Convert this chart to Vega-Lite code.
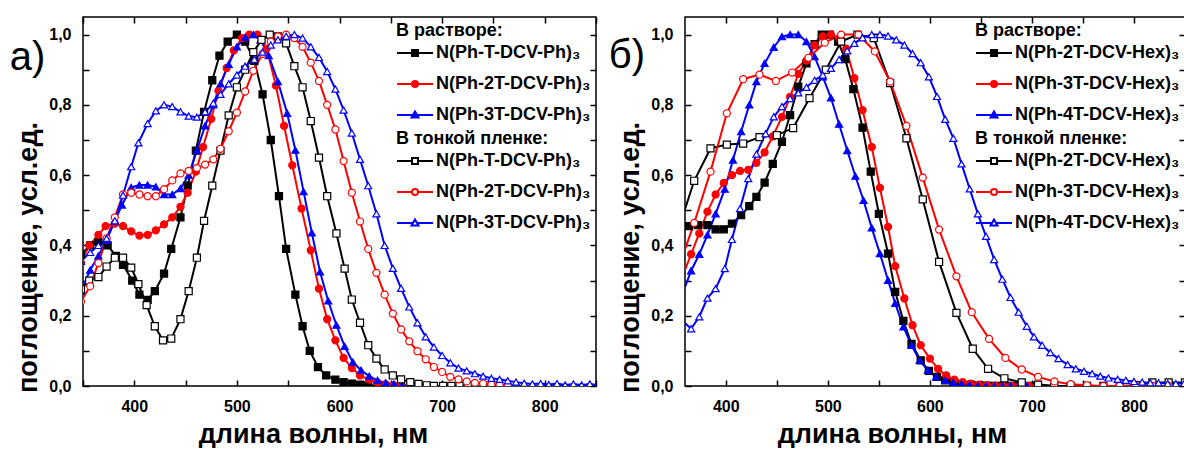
{
"$schema": "https://vega.github.io/schema/vega-lite/v6.json",
"background": "white",
"padding": {"left": 9, "top": 15, "right": 1, "bottom": 0},
"spacing": 9,
"datasets": {
"L": [
{"s":"s1","x":348,"y":0.375},{"s":"s1","x":357,"y":0.40},{"s":"s1","x":365,"y":0.41},{"s":"s1","x":374,"y":0.40},{"s":"s1","x":382,"y":0.37},{"s":"s1","x":389,"y":0.345},{"s":"s1","x":398,"y":0.30},{"s":"s1","x":405,"y":0.26},{"s":"s1","x":413,"y":0.245},{"s":"s1","x":420,"y":0.27},{"s":"s1","x":429,"y":0.32},{"s":"s1","x":436,"y":0.39},{"s":"s1","x":445,"y":0.48},{"s":"s1","x":452,"y":0.57},{"s":"s1","x":460,"y":0.67},{"s":"s1","x":468,"y":0.78},{"s":"s1","x":476,"y":0.87},{"s":"s1","x":483,"y":0.94},{"s":"s1","x":491,"y":0.98},{"s":"s1","x":500,"y":1.0},{"s":"s1","x":508,"y":0.98},{"s":"s1","x":517,"y":0.925},{"s":"s1","x":525,"y":0.83},{"s":"s1","x":533,"y":0.70},{"s":"s1","x":541,"y":0.54},{"s":"s1","x":548,"y":0.39},{"s":"s1","x":557,"y":0.26},{"s":"s1","x":564,"y":0.17},{"s":"s1","x":571,"y":0.10},{"s":"s1","x":579,"y":0.054},{"s":"s1","x":587,"y":0.03},{"s":"s1","x":596,"y":0.018},{"s":"s1","x":604,"y":0.011},{"s":"s1","x":612,"y":0.007},{"s":"s1","x":620,"y":0.004},{"s":"s1","x":628,"y":0.002},{"s":"s1","x":637,"y":0.001},
{"s":"s2","x":348,"y":0.35},{"s":"s2","x":356,"y":0.40},{"s":"s2","x":365,"y":0.43},{"s":"s2","x":372,"y":0.455},{"s":"s2","x":381,"y":0.462},{"s":"s2","x":389,"y":0.455},{"s":"s2","x":397,"y":0.44},{"s":"s2","x":405,"y":0.428},{"s":"s2","x":413,"y":0.43},{"s":"s2","x":421,"y":0.443},{"s":"s2","x":429,"y":0.46},{"s":"s2","x":437,"y":0.48},{"s":"s2","x":445,"y":0.51},{"s":"s2","x":452,"y":0.55},{"s":"s2","x":460,"y":0.61},{"s":"s2","x":467,"y":0.68},{"s":"s2","x":475,"y":0.76},{"s":"s2","x":482,"y":0.84},{"s":"s2","x":490,"y":0.905},{"s":"s2","x":497,"y":0.955},{"s":"s2","x":505,"y":0.99},{"s":"s2","x":512,"y":1.0},{"s":"s2","x":520,"y":1.0},{"s":"s2","x":529,"y":0.96},{"s":"s2","x":538,"y":0.855},{"s":"s2","x":546,"y":0.74},{"s":"s2","x":554,"y":0.628},{"s":"s2","x":563,"y":0.505},{"s":"s2","x":572,"y":0.386},{"s":"s2","x":580,"y":0.277},{"s":"s2","x":588,"y":0.19},{"s":"s2","x":596,"y":0.13},{"s":"s2","x":604,"y":0.08},{"s":"s2","x":612,"y":0.051},{"s":"s2","x":620,"y":0.03},{"s":"s2","x":629,"y":0.018},{"s":"s2","x":637,"y":0.01},{"s":"s2","x":645,"y":0.005},{"s":"s2","x":653,"y":0.002},{"s":"s2","x":661,"y":0.0},
{"s":"s3","x":348,"y":0.27},{"s":"s3","x":357,"y":0.33},{"s":"s3","x":365,"y":0.37},{"s":"s3","x":373,"y":0.415},{"s":"s3","x":381,"y":0.47},{"s":"s3","x":388,"y":0.515},{"s":"s3","x":397,"y":0.565},{"s":"s3","x":405,"y":0.572},{"s":"s3","x":413,"y":0.572},{"s":"s3","x":421,"y":0.567},{"s":"s3","x":429,"y":0.545},{"s":"s3","x":437,"y":0.545},{"s":"s3","x":445,"y":0.562},{"s":"s3","x":453,"y":0.60},{"s":"s3","x":461,"y":0.67},{"s":"s3","x":469,"y":0.74},{"s":"s3","x":477,"y":0.80},{"s":"s3","x":484,"y":0.86},{"s":"s3","x":492,"y":0.915},{"s":"s3","x":500,"y":0.965},{"s":"s3","x":508,"y":0.992},{"s":"s3","x":516,"y":1.0},{"s":"s3","x":523,"y":0.985},{"s":"s3","x":531,"y":0.94},{"s":"s3","x":540,"y":0.866},{"s":"s3","x":549,"y":0.776},{"s":"s3","x":557,"y":0.671},{"s":"s3","x":565,"y":0.553},{"s":"s3","x":573,"y":0.436},{"s":"s3","x":581,"y":0.325},{"s":"s3","x":589,"y":0.242},{"s":"s3","x":597,"y":0.173},{"s":"s3","x":605,"y":0.113},{"s":"s3","x":613,"y":0.068},{"s":"s3","x":621,"y":0.045},{"s":"s3","x":629,"y":0.028},{"s":"s3","x":637,"y":0.016},{"s":"s3","x":645,"y":0.009},{"s":"s3","x":653,"y":0.006},{"s":"s3","x":661,"y":0.003},{"s":"s3","x":669,"y":0.0},
{"s":"f1","x":348,"y":0.275},{"s":"f1","x":356,"y":0.30},{"s":"f1","x":365,"y":0.31},{"s":"f1","x":373,"y":0.34},{"s":"f1","x":381,"y":0.365},{"s":"f1","x":389,"y":0.365},{"s":"f1","x":397,"y":0.337},{"s":"f1","x":404,"y":0.29},{"s":"f1","x":412,"y":0.23},{"s":"f1","x":420,"y":0.17},{"s":"f1","x":428,"y":0.13},{"s":"f1","x":436,"y":0.135},{"s":"f1","x":445,"y":0.19},{"s":"f1","x":453,"y":0.27},{"s":"f1","x":461,"y":0.365},{"s":"f1","x":468,"y":0.47},{"s":"f1","x":476,"y":0.57},{"s":"f1","x":484,"y":0.67},{"s":"f1","x":492,"y":0.77},{"s":"f1","x":500,"y":0.85},{"s":"f1","x":508,"y":0.90},{"s":"f1","x":516,"y":0.95},{"s":"f1","x":524,"y":0.985},{"s":"f1","x":532,"y":1.0},{"s":"f1","x":540,"y":0.995},{"s":"f1","x":548,"y":0.975},{"s":"f1","x":556,"y":0.91},{"s":"f1","x":564,"y":0.85},{"s":"f1","x":572,"y":0.754},{"s":"f1","x":580,"y":0.65},{"s":"f1","x":588,"y":0.54},{"s":"f1","x":597,"y":0.434},{"s":"f1","x":605,"y":0.334},{"s":"f1","x":612,"y":0.246},{"s":"f1","x":620,"y":0.18},{"s":"f1","x":628,"y":0.116},{"s":"f1","x":636,"y":0.078},{"s":"f1","x":644,"y":0.047},{"s":"f1","x":652,"y":0.03},{"s":"f1","x":660,"y":0.019},{"s":"f1","x":669,"y":0.011},{"s":"f1","x":677,"y":0.006},{"s":"f1","x":685,"y":0.002},{"s":"f1","x":692,"y":0.0},{"s":"f1","x":701,"y":0.0},{"s":"f1","x":709,"y":0.0},{"s":"f1","x":717,"y":0.0},{"s":"f1","x":725,"y":0.0},
{"s":"f2","x":348,"y":0.24},{"s":"f2","x":357,"y":0.284},{"s":"f2","x":365,"y":0.35},{"s":"f2","x":373,"y":0.42},{"s":"f2","x":381,"y":0.48},{"s":"f2","x":389,"y":0.545},{"s":"f2","x":397,"y":0.55},{"s":"f2","x":405,"y":0.545},{"s":"f2","x":413,"y":0.54},{"s":"f2","x":421,"y":0.54},{"s":"f2","x":429,"y":0.56},{"s":"f2","x":437,"y":0.585},{"s":"f2","x":445,"y":0.605},{"s":"f2","x":453,"y":0.612},{"s":"f2","x":461,"y":0.62},{"s":"f2","x":469,"y":0.63},{"s":"f2","x":477,"y":0.645},{"s":"f2","x":484,"y":0.675},{"s":"f2","x":492,"y":0.725},{"s":"f2","x":500,"y":0.778},{"s":"f2","x":508,"y":0.838},{"s":"f2","x":516,"y":0.897},{"s":"f2","x":525,"y":0.945},{"s":"f2","x":533,"y":0.98},{"s":"f2","x":540,"y":0.995},{"s":"f2","x":548,"y":1.0},{"s":"f2","x":556,"y":0.99},{"s":"f2","x":564,"y":0.965},{"s":"f2","x":572,"y":0.92},{"s":"f2","x":580,"y":0.868},{"s":"f2","x":588,"y":0.80},{"s":"f2","x":596,"y":0.73},{"s":"f2","x":604,"y":0.64},{"s":"f2","x":612,"y":0.55},{"s":"f2","x":620,"y":0.468},{"s":"f2","x":628,"y":0.39},{"s":"f2","x":636,"y":0.322},{"s":"f2","x":644,"y":0.26},{"s":"f2","x":652,"y":0.206},{"s":"f2","x":660,"y":0.161},{"s":"f2","x":668,"y":0.127},{"s":"f2","x":676,"y":0.099},{"s":"f2","x":684,"y":0.076},{"s":"f2","x":692,"y":0.054},{"s":"f2","x":700,"y":0.04},{"s":"f2","x":708,"y":0.026},{"s":"f2","x":716,"y":0.019},{"s":"f2","x":724,"y":0.013},{"s":"f2","x":732,"y":0.009},{"s":"f2","x":740,"y":0.007},{"s":"f2","x":748,"y":0.004},{"s":"f2","x":756,"y":0.002},{"s":"f2","x":764,"y":0.0},
{"s":"f3","x":348,"y":0.355},{"s":"f3","x":357,"y":0.38},{"s":"f3","x":365,"y":0.40},{"s":"f3","x":373,"y":0.42},{"s":"f3","x":381,"y":0.47},{"s":"f3","x":389,"y":0.543},{"s":"f3","x":397,"y":0.624},{"s":"f3","x":404,"y":0.692},{"s":"f3","x":413,"y":0.747},{"s":"f3","x":421,"y":0.783},{"s":"f3","x":429,"y":0.80},{"s":"f3","x":437,"y":0.795},{"s":"f3","x":445,"y":0.78},{"s":"f3","x":453,"y":0.768},{"s":"f3","x":461,"y":0.765},{"s":"f3","x":469,"y":0.78},{"s":"f3","x":477,"y":0.805},{"s":"f3","x":484,"y":0.83},{"s":"f3","x":492,"y":0.86},{"s":"f3","x":500,"y":0.885},{"s":"f3","x":508,"y":0.91},{"s":"f3","x":517,"y":0.93},{"s":"f3","x":525,"y":0.95},{"s":"f3","x":533,"y":0.97},{"s":"f3","x":540,"y":0.985},{"s":"f3","x":548,"y":0.995},{"s":"f3","x":556,"y":1.0},{"s":"f3","x":564,"y":0.99},{"s":"f3","x":572,"y":0.965},{"s":"f3","x":580,"y":0.935},{"s":"f3","x":588,"y":0.895},{"s":"f3","x":596,"y":0.845},{"s":"f3","x":604,"y":0.785},{"s":"f3","x":612,"y":0.72},{"s":"f3","x":620,"y":0.645},{"s":"f3","x":628,"y":0.57},{"s":"f3","x":636,"y":0.49},{"s":"f3","x":644,"y":0.40},{"s":"f3","x":652,"y":0.335},{"s":"f3","x":660,"y":0.278},{"s":"f3","x":668,"y":0.225},{"s":"f3","x":676,"y":0.18},{"s":"f3","x":684,"y":0.14},{"s":"f3","x":692,"y":0.111},{"s":"f3","x":700,"y":0.087},{"s":"f3","x":708,"y":0.066},{"s":"f3","x":716,"y":0.051},{"s":"f3","x":724,"y":0.043},{"s":"f3","x":732,"y":0.035},{"s":"f3","x":740,"y":0.028},{"s":"f3","x":748,"y":0.022},{"s":"f3","x":756,"y":0.019},{"s":"f3","x":764,"y":0.015},{"s":"f3","x":772,"y":0.011},{"s":"f3","x":780,"y":0.008},{"s":"f3","x":788,"y":0.006},{"s":"f3","x":796,"y":0.007},{"s":"f3","x":804,"y":0.004},{"s":"f3","x":812,"y":0.007},{"s":"f3","x":820,"y":0.003},{"s":"f3","x":828,"y":0.006},{"s":"f3","x":836,"y":0.003},{"s":"f3","x":844,"y":0.006},{"s":"f3","x":852,"y":0.003}
],
"R": [
{"s":"s1","x":356,"y":0.44},{"s":"s1","x":364,"y":0.455},{"s":"s1","x":373,"y":0.458},{"s":"s1","x":382,"y":0.458},{"s":"s1","x":390,"y":0.446},{"s":"s1","x":398,"y":0.446},{"s":"s1","x":406,"y":0.462},{"s":"s1","x":415,"y":0.486},{"s":"s1","x":423,"y":0.512},{"s":"s1","x":430,"y":0.538},{"s":"s1","x":438,"y":0.579},{"s":"s1","x":446,"y":0.632},{"s":"s1","x":455,"y":0.695},{"s":"s1","x":463,"y":0.771},{"s":"s1","x":471,"y":0.852},{"s":"s1","x":479,"y":0.918},{"s":"s1","x":487,"y":0.973},{"s":"s1","x":494,"y":1.0},{"s":"s1","x":502,"y":1.0},{"s":"s1","x":510,"y":0.98},{"s":"s1","x":517,"y":0.93},{"s":"s1","x":525,"y":0.845},{"s":"s1","x":534,"y":0.735},{"s":"s1","x":542,"y":0.61},{"s":"s1","x":550,"y":0.49},{"s":"s1","x":559,"y":0.377},{"s":"s1","x":566,"y":0.268},{"s":"s1","x":574,"y":0.185},{"s":"s1","x":582,"y":0.12},{"s":"s1","x":591,"y":0.073},{"s":"s1","x":599,"y":0.043},{"s":"s1","x":607,"y":0.026},{"s":"s1","x":615,"y":0.016},{"s":"s1","x":623,"y":0.01},{"s":"s1","x":631,"y":0.006},{"s":"s1","x":640,"y":0.004},{"s":"s1","x":648,"y":0.002},{"s":"s1","x":656,"y":0.001},{"s":"s1","x":664,"y":0},{"s":"s1","x":672,"y":0},{"s":"s1","x":680,"y":0},{"s":"s1","x":688,"y":0},{"s":"s1","x":697,"y":0},{"s":"s1","x":705,"y":0},
{"s":"s2","x":356,"y":0.30},{"s":"s2","x":366,"y":0.375},{"s":"s2","x":374,"y":0.434},{"s":"s2","x":382,"y":0.496},{"s":"s2","x":390,"y":0.545},{"s":"s2","x":398,"y":0.578},{"s":"s2","x":406,"y":0.60},{"s":"s2","x":414,"y":0.612},{"s":"s2","x":422,"y":0.615},{"s":"s2","x":430,"y":0.635},{"s":"s2","x":438,"y":0.665},{"s":"s2","x":446,"y":0.71},{"s":"s2","x":455,"y":0.766},{"s":"s2","x":463,"y":0.823},{"s":"s2","x":471,"y":0.888},{"s":"s2","x":479,"y":0.926},{"s":"s2","x":487,"y":0.97},{"s":"s2","x":495,"y":0.995},{"s":"s2","x":503,"y":1.0},{"s":"s2","x":511,"y":0.99},{"s":"s2","x":518,"y":0.96},{"s":"s2","x":526,"y":0.876},{"s":"s2","x":534,"y":0.785},{"s":"s2","x":543,"y":0.68},{"s":"s2","x":551,"y":0.564},{"s":"s2","x":559,"y":0.453},{"s":"s2","x":566,"y":0.341},{"s":"s2","x":575,"y":0.249},{"s":"s2","x":583,"y":0.173},{"s":"s2","x":591,"y":0.116},{"s":"s2","x":600,"y":0.078},{"s":"s2","x":608,"y":0.049},{"s":"s2","x":616,"y":0.03},{"s":"s2","x":624,"y":0.018},{"s":"s2","x":632,"y":0.011},{"s":"s2","x":640,"y":0.007},{"s":"s2","x":648,"y":0.004},{"s":"s2","x":656,"y":0.002},{"s":"s2","x":664,"y":0.001},{"s":"s2","x":672,"y":0},{"s":"s2","x":680,"y":0},{"s":"s2","x":688,"y":0},{"s":"s2","x":697,"y":0},
{"s":"s3","x":356,"y":0.25},{"s":"s3","x":366,"y":0.328},{"s":"s3","x":374,"y":0.375},{"s":"s3","x":382,"y":0.43},{"s":"s3","x":390,"y":0.49},{"s":"s3","x":399,"y":0.56},{"s":"s3","x":407,"y":0.643},{"s":"s3","x":415,"y":0.724},{"s":"s3","x":423,"y":0.80},{"s":"s3","x":430,"y":0.866},{"s":"s3","x":438,"y":0.918},{"s":"s3","x":447,"y":0.964},{"s":"s3","x":455,"y":0.994},{"s":"s3","x":463,"y":1.0},{"s":"s3","x":471,"y":1.0},{"s":"s3","x":479,"y":0.98},{"s":"s3","x":487,"y":0.937},{"s":"s3","x":495,"y":0.88},{"s":"s3","x":503,"y":0.82},{"s":"s3","x":511,"y":0.745},{"s":"s3","x":519,"y":0.67},{"s":"s3","x":527,"y":0.597},{"s":"s3","x":535,"y":0.528},{"s":"s3","x":543,"y":0.45},{"s":"s3","x":551,"y":0.377},{"s":"s3","x":559,"y":0.301},{"s":"s3","x":566,"y":0.235},{"s":"s3","x":574,"y":0.168},{"s":"s3","x":582,"y":0.116},{"s":"s3","x":590,"y":0.073},{"s":"s3","x":598,"y":0.045},{"s":"s3","x":606,"y":0.026},{"s":"s3","x":615,"y":0.016},{"s":"s3","x":623,"y":0.01},{"s":"s3","x":631,"y":0.006},{"s":"s3","x":639,"y":0.003},{"s":"s3","x":647,"y":0.001},{"s":"s3","x":655,"y":0},{"s":"s3","x":663,"y":0},{"s":"s3","x":671,"y":0},{"s":"s3","x":679,"y":0},{"s":"s3","x":687,"y":0},{"s":"s3","x":695,"y":0},
{"s":"f1","x":353,"y":0.44},{"s":"f1","x":369,"y":0.584},{"s":"f1","x":385,"y":0.676},{"s":"f1","x":401,"y":0.687},{"s":"f1","x":417,"y":0.69},{"s":"f1","x":433,"y":0.708},{"s":"f1","x":450,"y":0.714},{"s":"f1","x":466,"y":0.734},{"s":"f1","x":482,"y":0.819},{"s":"f1","x":498,"y":0.90},{"s":"f1","x":513,"y":0.98},{"s":"f1","x":529,"y":1.0},{"s":"f1","x":545,"y":0.99},{"s":"f1","x":561,"y":0.862},{"s":"f1","x":577,"y":0.705},{"s":"f1","x":593,"y":0.531},{"s":"f1","x":609,"y":0.353},{"s":"f1","x":626,"y":0.208},{"s":"f1","x":642,"y":0.106},{"s":"f1","x":657,"y":0.049},{"s":"f1","x":673,"y":0.022},{"s":"f1","x":690,"y":0.01},{"s":"f1","x":706,"y":0.004},{"s":"f1","x":722,"y":0.001},{"s":"f1","x":738,"y":0},{"s":"f1","x":754,"y":0},{"s":"f1","x":770,"y":0},{"s":"f1","x":786,"y":0},{"s":"f1","x":802,"y":0.002},{"s":"f1","x":818,"y":0.01},{"s":"f1","x":834,"y":0.01},{"s":"f1","x":850,"y":0.01},
{"s":"f2","x":353,"y":0.33},{"s":"f2","x":369,"y":0.464},{"s":"f2","x":385,"y":0.61},{"s":"f2","x":401,"y":0.776},{"s":"f2","x":417,"y":0.873},{"s":"f2","x":433,"y":0.886},{"s":"f2","x":449,"y":0.868},{"s":"f2","x":465,"y":0.892},{"s":"f2","x":481,"y":0.934},{"s":"f2","x":497,"y":0.977},{"s":"f2","x":513,"y":1.0},{"s":"f2","x":530,"y":1.0},{"s":"f2","x":546,"y":0.952},{"s":"f2","x":561,"y":0.866},{"s":"f2","x":577,"y":0.74},{"s":"f2","x":593,"y":0.593},{"s":"f2","x":609,"y":0.445},{"s":"f2","x":626,"y":0.312},{"s":"f2","x":641,"y":0.21},{"s":"f2","x":658,"y":0.134},{"s":"f2","x":674,"y":0.08},{"s":"f2","x":690,"y":0.047},{"s":"f2","x":706,"y":0.026},{"s":"f2","x":722,"y":0.013},{"s":"f2","x":738,"y":0.005},{"s":"f2","x":754,"y":0.002},{"s":"f2","x":770,"y":0},{"s":"f2","x":786,"y":0},{"s":"f2","x":802,"y":0},{"s":"f2","x":818,"y":0},{"s":"f2","x":834,"y":0},{"s":"f2","x":850,"y":0},
{"s":"f3","x":356,"y":0.19},{"s":"f3","x":366,"y":0.163},{"s":"f3","x":374,"y":0.197},{"s":"f3","x":382,"y":0.25},{"s":"f3","x":390,"y":0.277},{"s":"f3","x":399,"y":0.334},{"s":"f3","x":406,"y":0.417},{"s":"f3","x":414,"y":0.505},{"s":"f3","x":422,"y":0.59},{"s":"f3","x":430,"y":0.66},{"s":"f3","x":439,"y":0.718},{"s":"f3","x":447,"y":0.766},{"s":"f3","x":455,"y":0.795},{"s":"f3","x":463,"y":0.818},{"s":"f3","x":471,"y":0.834},{"s":"f3","x":479,"y":0.85},{"s":"f3","x":487,"y":0.87},{"s":"f3","x":495,"y":0.885},{"s":"f3","x":503,"y":0.904},{"s":"f3","x":511,"y":0.929},{"s":"f3","x":519,"y":0.954},{"s":"f3","x":526,"y":0.975},{"s":"f3","x":534,"y":0.991},{"s":"f3","x":543,"y":1.0},{"s":"f3","x":551,"y":1.0},{"s":"f3","x":559,"y":0.996},{"s":"f3","x":567,"y":0.985},{"s":"f3","x":575,"y":0.97},{"s":"f3","x":583,"y":0.946},{"s":"f3","x":591,"y":0.92},{"s":"f3","x":599,"y":0.88},{"s":"f3","x":607,"y":0.824},{"s":"f3","x":615,"y":0.759},{"s":"f3","x":623,"y":0.705},{"s":"f3","x":631,"y":0.632},{"s":"f3","x":639,"y":0.561},{"s":"f3","x":647,"y":0.49},{"s":"f3","x":655,"y":0.426},{"s":"f3","x":663,"y":0.36},{"s":"f3","x":671,"y":0.304},{"s":"f3","x":679,"y":0.252},{"s":"f3","x":687,"y":0.21},{"s":"f3","x":695,"y":0.17},{"s":"f3","x":702,"y":0.14},{"s":"f3","x":710,"y":0.116},{"s":"f3","x":718,"y":0.095},{"s":"f3","x":726,"y":0.078},{"s":"f3","x":735,"y":0.061},{"s":"f3","x":743,"y":0.049},{"s":"f3","x":751,"y":0.042},{"s":"f3","x":759,"y":0.035},{"s":"f3","x":767,"y":0.028},{"s":"f3","x":775,"y":0.023},{"s":"f3","x":784,"y":0.019},{"s":"f3","x":792,"y":0.016},{"s":"f3","x":800,"y":0.013},{"s":"f3","x":808,"y":0.011},{"s":"f3","x":816,"y":0.009},{"s":"f3","x":824,"y":0.009},{"s":"f3","x":833,"y":0.007},{"s":"f3","x":841,"y":0.007},{"s":"f3","x":849,"y":0.007}
]
},
"hconcat": [
{
"width": 513, "height": 369,
"data": {"name": "L"},
"resolve": {"scale": {"stroke": "independent", "fill": "independent", "shape": "independent"}, "legend": {"stroke": "independent", "fill": "independent", "shape": "independent"}},
"layer": [
{"mark": {"type": "line", "strokeWidth": 2, "clip": true},
 "encoding": {
  "x": {"field": "x", "type": "quantitative", "scale": {"domain": [350, 850], "nice": false, "zero": false},
        "axis": {"orient": "bottom", "values": [350,400,450,500,550,600,650,700,750,800,850], "format": "d", "labelExpr": "datum.value % 100 == 0 ? datum.label : ''", "title": "длина волны, нм", "titlePadding": 7, "titleX": 230}},
  "y": {"field": "y", "type": "quantitative", "scale": {"domain": [0, 1.05], "nice": false},
        "axis": {"orient": "left", "values": [0,0.1,0.2,0.3,0.4,0.5,0.6,0.7,0.8,0.9,1.0], "labelExpr": "round(datum.value*10) % 2 == 0 ? replace(format(datum.value, '.1f'), '.', ',') : ''", "title": "поглощение, усл.ед.", "titlePadding": 6, "titleY": 240}},
  "stroke": {"field": "s", "type": "nominal", "legend": null, "scale": {"domain": ["s1","s2","s3","f1","f2","f3"], "range": ["black","red","blue","black","red","blue"]}}
 }},
{"mark": {"type": "point", "size": 50, "strokeWidth": 1.2, "opacity": 1, "clip": true},
 "encoding": {
  "x": {"field": "x", "type": "quantitative", "axis": {"orient": "top", "values": [350,400,450,500,550,600,650,700,750,800,850], "labels": false, "title": null}},
  "y": {"field": "y", "type": "quantitative", "axis": {"orient": "right", "values": [0,0.1,0.2,0.3,0.4,0.5,0.6,0.7,0.8,0.9,1.0], "labels": false, "title": null}},
  "stroke": {"field": "s", "type": "nominal", "legend": null, "scale": {"domain": ["s1","s2","s3","f1","f2","f3"], "range": ["black","red","blue","black","red","blue"]}},
  "fill": {"field": "s", "type": "nominal", "legend": null, "scale": {"domain": ["s1","s2","s3","f1","f2","f3"], "range": ["black","red","blue","white","white","white"]}},
  "shape": {"field": "s", "type": "nominal", "legend": null, "scale": {"domain": ["s1","s2","s3","f1","f2","f3"], "range": ["square","circle","triangle-up","square","circle","triangle-up"]}}
 }},
{"transform": [{"filter": "false"}],
 "mark": {"type": "point", "opacity": 1, "strokeWidth": 2},
 "encoding": {
  "stroke": {"field": "s", "type": "nominal", "scale": {"domain": ["s1","s2","s3"], "range": ["black","red","blue"]},
    "legend": {"orient": "top-right", "offset": 5, "padding": 0, "title": "В растворе:", "titlePadding": 4, "labelOffset": 12, "symbolOffset": 10, "rowPadding": 13, "symbolSize": 36, "symbolStrokeWidth": 2,
      "labelExpr": "datum.value=='s1' ? 'N(Ph-T-DCV-Ph)₃' : datum.value=='s2' ? 'N(Ph-2T-DCV-Ph)₃' : 'N(Ph-3T-DCV-Ph)₃'"}},
  "fill": {"field": "s", "type": "nominal", "scale": {"domain": ["s1","s2","s3"], "range": ["black","red","blue"]}},
  "shape": {"field": "s", "type": "nominal", "scale": {"domain": ["s1","s2","s3"], "range": ["M-6,0H-1M1,0H6M-1,-1H1V1H-1Z", "M-6,0H-1M1,0H6M1,0A1,1,0,1,1,-1,0A1,1,0,1,1,1,0Z", "M-6,0H-0.69M0.69,0H6M0,-1.2L1.15,0.8H-1.15Z"]}}
 }},
{"transform": [{"filter": "false"}],
 "mark": {"type": "point", "opacity": 1, "strokeWidth": 2},
 "encoding": {
  "stroke": {"field": "s", "type": "nominal", "scale": {"domain": ["f1","f2","f3"], "range": ["black","red","blue"]},
    "legend": {"orient": "top-right", "offset": 5, "padding": 0, "title": "В тонкой пленке:", "titlePadding": 4, "labelOffset": 12, "symbolOffset": 10, "rowPadding": 13, "symbolSize": 36, "symbolStrokeWidth": 2,
      "labelExpr": "datum.value=='f1' ? 'N(Ph-T-DCV-Ph)₃' : datum.value=='f2' ? 'N(Ph-2T-DCV-Ph)₃' : 'N(Ph-3T-DCV-Ph)₃'"}},
  "fill": {"field": "s", "type": "nominal", "scale": {"domain": ["f1","f2","f3"], "range": ["white","white","white"]}},
  "shape": {"field": "s", "type": "nominal", "scale": {"domain": ["f1","f2","f3"], "range": ["M-6,0H-1M1,0H6M-1,-1H1V1H-1Z", "M-6,0H-1M1,0H6M1,0A1,1,0,1,1,-1,0A1,1,0,1,1,1,0Z", "M-6,0H-0.69M0.69,0H6M0,-1.2L1.15,0.8H-1.15Z"]}}
 }},
{"data": {"values": [{}]},
 "mark": {"type": "text", "text": "а)", "font": "Liberation Sans", "fontSize": 40, "align": "center", "baseline": "alphabetic", "color": "black"},
 "encoding": {"x": {"datum": 296, "type": "quantitative", "axis": null}, "y": {"datum": 0.9, "type": "quantitative", "axis": null}}}
]
},
{
"width": 500, "height": 369,
"data": {"name": "R"},
"resolve": {"scale": {"stroke": "independent", "fill": "independent", "shape": "independent"}, "legend": {"stroke": "independent", "fill": "independent", "shape": "independent"}},
"layer": [
{"mark": {"type": "line", "strokeWidth": 2, "clip": true},
 "encoding": {
  "x": {"field": "x", "type": "quantitative", "scale": {"domain": [360, 850], "nice": false, "zero": false},
        "axis": {"orient": "bottom", "values": [400,450,500,550,600,650,700,750,800,850], "format": "d", "labelExpr": "datum.value % 100 == 0 ? datum.label : ''", "title": "длина волны, нм", "titlePadding": 7, "titleX": 207}},
  "y": {"field": "y", "type": "quantitative", "scale": {"domain": [0, 1.05], "nice": false},
        "axis": {"orient": "left", "values": [0,0.1,0.2,0.3,0.4,0.5,0.6,0.7,0.8,0.9,1.0], "labelExpr": "round(datum.value*10) % 2 == 0 ? replace(format(datum.value, '.1f'), '.', ',') : ''", "title": "поглощение, усл.ед.", "titlePadding": 6, "titleY": 240}},
  "stroke": {"field": "s", "type": "nominal", "legend": null, "scale": {"domain": ["s1","s2","s3","f1","f2","f3"], "range": ["black","red","blue","black","red","blue"]}}
 }},
{"mark": {"type": "point", "size": 50, "strokeWidth": 1.2, "opacity": 1, "clip": true},
 "encoding": {
  "x": {"field": "x", "type": "quantitative", "axis": {"orient": "top", "values": [400,450,500,550,600,650,700,750,800,850], "labels": false, "title": null}},
  "y": {"field": "y", "type": "quantitative", "axis": {"orient": "right", "values": [0,0.1,0.2,0.3,0.4,0.5,0.6,0.7,0.8,0.9,1.0], "labels": false, "title": null}},
  "stroke": {"field": "s", "type": "nominal", "legend": null, "scale": {"domain": ["s1","s2","s3","f1","f2","f3"], "range": ["black","red","blue","black","red","blue"]}},
  "fill": {"field": "s", "type": "nominal", "legend": null, "scale": {"domain": ["s1","s2","s3","f1","f2","f3"], "range": ["black","red","blue","white","white","white"]}},
  "shape": {"field": "s", "type": "nominal", "legend": null, "scale": {"domain": ["s1","s2","s3","f1","f2","f3"], "range": ["square","circle","triangle-up","square","circle","triangle-up"]}}
 }},
{"transform": [{"filter": "false"}],
 "mark": {"type": "point", "opacity": 1, "strokeWidth": 2},
 "encoding": {
  "stroke": {"field": "s", "type": "nominal", "scale": {"domain": ["s1","s2","s3"], "range": ["black","red","blue"]},
    "legend": {"orient": "top-right", "offset": 5, "padding": 0, "title": "В растворе:", "titlePadding": 4, "labelOffset": 12, "symbolOffset": 10, "rowPadding": 13, "symbolSize": 36, "symbolStrokeWidth": 2,
      "labelExpr": "datum.value=='s1' ? 'N(Ph-2T-DCV-Hex)₃' : datum.value=='s2' ? 'N(Ph-3T-DCV-Hex)₃' : 'N(Ph-4T-DCV-Hex)₃'"}},
  "fill": {"field": "s", "type": "nominal", "scale": {"domain": ["s1","s2","s3"], "range": ["black","red","blue"]}},
  "shape": {"field": "s", "type": "nominal", "scale": {"domain": ["s1","s2","s3"], "range": ["M-6,0H-1M1,0H6M-1,-1H1V1H-1Z", "M-6,0H-1M1,0H6M1,0A1,1,0,1,1,-1,0A1,1,0,1,1,1,0Z", "M-6,0H-0.69M0.69,0H6M0,-1.2L1.15,0.8H-1.15Z"]}}
 }},
{"transform": [{"filter": "false"}],
 "mark": {"type": "point", "opacity": 1, "strokeWidth": 2},
 "encoding": {
  "stroke": {"field": "s", "type": "nominal", "scale": {"domain": ["f1","f2","f3"], "range": ["black","red","blue"]},
    "legend": {"orient": "top-right", "offset": 5, "padding": 0, "title": "В тонкой пленке:", "titlePadding": 4, "labelOffset": 12, "symbolOffset": 10, "rowPadding": 13, "symbolSize": 36, "symbolStrokeWidth": 2,
      "labelExpr": "datum.value=='f1' ? 'N(Ph-2T-DCV-Hex)₃' : datum.value=='f2' ? 'N(Ph-3T-DCV-Hex)₃' : 'N(Ph-4T-DCV-Hex)₃'"}},
  "fill": {"field": "s", "type": "nominal", "scale": {"domain": ["f1","f2","f3"], "range": ["white","white","white"]}},
  "shape": {"field": "s", "type": "nominal", "scale": {"domain": ["f1","f2","f3"], "range": ["M-6,0H-1M1,0H6M-1,-1H1V1H-1Z", "M-6,0H-1M1,0H6M1,0A1,1,0,1,1,-1,0A1,1,0,1,1,1,0Z", "M-6,0H-0.69M0.69,0H6M0,-1.2L1.15,0.8H-1.15Z"]}}
 }},
{"data": {"values": [{}]},
 "mark": {"type": "text", "text": "б)", "font": "Liberation Sans", "fontSize": 40, "align": "center", "baseline": "alphabetic", "color": "black"},
 "encoding": {"x": {"datum": 303, "type": "quantitative", "axis": null}, "y": {"datum": 0.905, "type": "quantitative", "axis": null}}}
]
}
],
"resolve": {"scale": {"x": "independent", "y": "independent", "stroke": "independent", "fill": "independent", "shape": "independent"}, "legend": {"stroke": "independent", "fill": "independent", "shape": "independent"}},
"config": {
 "font": "Liberation Sans",
 "view": {"stroke": "black", "strokeWidth": 1.5},
 "axis": {"grid": false, "domain": false, "tickColor": "black", "tickWidth": 1.5, "tickSize": -6, "labelFont": "Liberation Sans", "labelFontSize": 16, "labelFontWeight": "bold", "labelColor": "black", "labelPadding": 18, "labelOverlap": false, "labelFlush": false, "titleFont": "Liberation Sans", "titleFontSize": 27, "titleFontWeight": "bold", "titleColor": "black"},
 "legend": {"labelFont": "Liberation Sans", "labelFontSize": 18, "labelFontWeight": "bold", "labelColor": "black", "labelLimit": 400, "titleFont": "Liberation Sans", "titleFontSize": 18, "titleFontWeight": "bold", "titleColor": "black", "titleLimit": 400,
   "layout": {"direction": "vertical", "margin": 6, "anchor": "end"}}
}
}
